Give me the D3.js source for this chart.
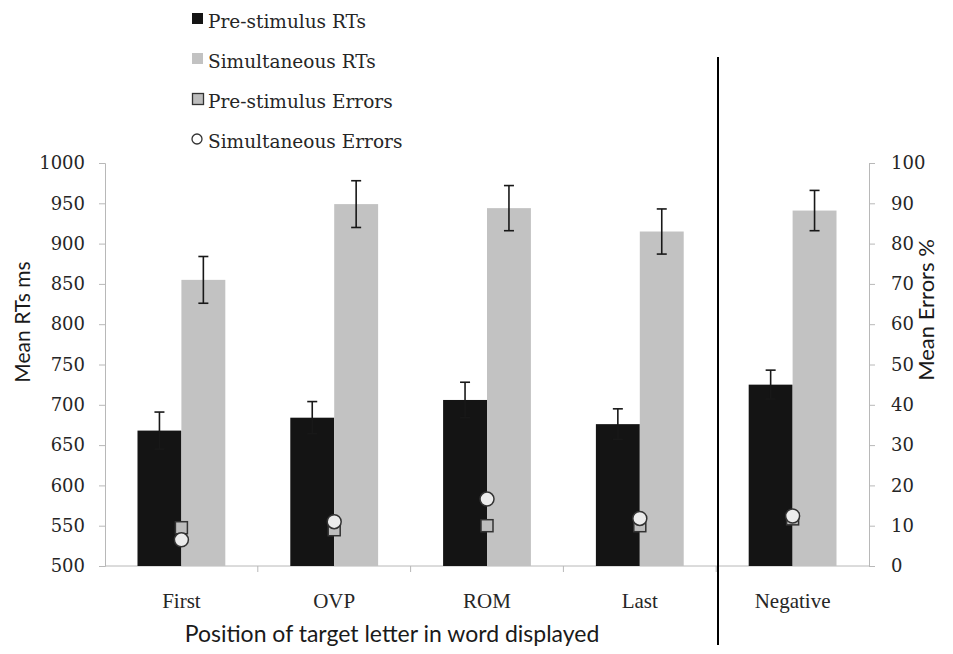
<!DOCTYPE html>
<html>
<head>
<meta charset="utf-8">
<script src="https://cdn.jsdelivr.net/npm/d3@7"></script>
<style>
  body { margin: 0; background: #fff; }
  .serif { font-family: "DejaVu Serif", serif; fill: #262626; }
  .cat { font-family: "Liberation Serif", serif; fill: #262626; }
  .sans { font-family: Lato, "Open Sans", sans-serif; fill: #1a1a1a; }
  .axis path, .axis line { stroke: #b8b8b8; }
</style>
</head>
<body>
<div id="chart"></div>
<script>
// data
const categories = ['First', 'OVP', 'ROM', 'Last', 'Negative'];
const preRT = [668, 684, 706, 676, 725];
const preRTErr = [23, 20, 22, 19, 18];
const simRT = [855, 949, 944, 915, 941];
const simRTErr = [29, 29, 28, 28, 25];
const preErrors = [9.5, 9, 10, 10, 11.7];
const simErrors = [6.5, 11, 16.6, 11.8, 12.4];
const rtTicks = [500, 550, 600, 650, 700, 750, 800, 850, 900, 950, 1000];
const errTicks = [0, 10, 20, 30, 40, 50, 60, 70, 80, 90, 100];
const legendLabels = ['Pre-stimulus RTs', 'Simultaneous RTs', 'Pre-stimulus Errors', 'Simultaneous Errors'];

let width = 953, height = 654;
let margin = { top: 163, left: 105, right: 84, bottom: 88 };
let innerW = width - margin.left - margin.right;
let innerH = height - margin.top - margin.bottom;

let svg = d3.select('#chart')
    .append('svg')
    .attr('width', width)
    .attr('height', height);

let g = svg.append('g')
    .attr('transform', 'translate(' + margin.left + ',' + margin.top + ')');

const x0 = d3.scaleBand().domain(categories).range([0, innerW]).padding(0);
const x1 = d3.scaleBand().domain(['pre', 'sim']).range([0, x0.bandwidth()])
    .paddingInner(0).paddingOuter(0.74);
const yRT = d3.scaleLinear().domain([500, 1000]).range([innerH, 0]);
const yErr = d3.scaleLinear().domain([0, 100]).range([innerH, 0]);

const rows = categories.map((c, i) => ({
    cat: c,
    bars: [
        { key: 'pre', v: preRT[i], e: preRTErr[i], color: '#141414' },
        { key: 'sim', v: simRT[i], e: simRTErr[i], color: '#c2c2c2' }
    ],
    preE: preErrors[i],
    simE: simErrors[i]
}));

// axes
let yAxisL = d3.axisLeft(yRT).tickValues(rtTicks).tickFormat(d3.format('d')).tickSize(6).tickPadding(14);
let yAxisR = d3.axisRight(yErr).tickValues(errTicks).tickFormat(d3.format('d')).tickSize(6).tickPadding(16);

g.append('g').attr('class', 'axis').call(yAxisL)
    .call(a => a.selectAll('text').attr('class', 'serif').style('font-size', '18px'));
g.append('g').attr('class', 'axis').attr('transform', `translate(${innerW},0)`).call(yAxisR)
    .call(a => a.selectAll('text').attr('class', 'serif').style('font-size', '18px'));

// x axis: line plus ticks at category boundaries
let xAxis = g.append('g').attr('class', 'axis').attr('transform', `translate(0,${innerH})`);
xAxis.append('line').attr('x1', 0).attr('x2', innerW).attr('y1', 0).attr('y2', 0);
xAxis.selectAll('.tk')
    .data(categories.slice(1))
    .enter()
    .append('line')
    .attr('x1', d => x0(d)).attr('x2', d => x0(d))
    .attr('y1', 0).attr('y2', 6);

g.selectAll('.catlab')
    .data(categories)
    .enter()
    .append('text')
    .attr('class', 'cat')
    .attr('x', d => x0(d) + x0.bandwidth() / 2)
    .attr('y', innerH + 42)
    .attr('text-anchor', 'middle')
    .style('font-size', '21px')
    .text(d => d);

// bars
let groups = g.selectAll('.grp')
    .data(rows)
    .enter()
    .append('g')
    .attr('transform', d => `translate(${x0(d.cat)},0)`);

groups.selectAll('rect')
    .data(d => d.bars)
    .enter()
    .append('rect')
    .attr('x', d => x1(d.key))
    .attr('y', d => yRT(d.v))
    .attr('width', x1.bandwidth())
    .attr('height', d => innerH - yRT(d.v))
    .attr('fill', d => d.color);

// error bars
let eb = groups.selectAll('.eb')
    .data(d => d.bars)
    .enter()
    .append('g')
    .attr('stroke', '#181818')
    .attr('stroke-width', 1.6);
eb.append('line')
    .attr('x1', d => x1(d.key) + x1.bandwidth() / 2)
    .attr('x2', d => x1(d.key) + x1.bandwidth() / 2)
    .attr('y1', d => yRT(d.v + d.e))
    .attr('y2', d => yRT(d.v - d.e));
[1, -1].forEach(s => {
    eb.append('line')
        .attr('x1', d => x1(d.key) + x1.bandwidth() / 2 - 5)
        .attr('x2', d => x1(d.key) + x1.bandwidth() / 2 + 5)
        .attr('y1', d => yRT(d.v + s * d.e))
        .attr('y2', d => yRT(d.v + s * d.e));
});

// error markers
let mid = x0.bandwidth() / 2;
groups.append('rect')
    .attr('x', mid - 6)
    .attr('y', d => yErr(d.preE) - 6)
    .attr('width', 12).attr('height', 12)
    .attr('fill', '#bdbdbd')
    .attr('stroke', '#333')
    .attr('stroke-width', 1.5);
groups.append('circle')
    .attr('cx', mid)
    .attr('cy', d => yErr(d.simE))
    .attr('r', 7)
    .attr('fill', '#ececec')
    .attr('stroke', '#333')
    .attr('stroke-width', 1.5);

// axis titles
svg.append('text')
    .attr('class', 'sans')
    .attr('transform', 'translate(30,322) rotate(-90)')
    .attr('text-anchor', 'middle')
    .style('font-size', '21px')
    .text('Mean RTs ms');
svg.append('text')
    .attr('class', 'sans')
    .attr('transform', 'translate(934,310) rotate(-90)')
    .attr('text-anchor', 'middle')
    .style('font-size', '22px')
    .text('Mean Errors %');
svg.append('text')
    .attr('class', 'sans')
    .attr('x', 392)
    .attr('y', 642)
    .attr('text-anchor', 'middle')
    .style('font-size', '23px')
    .text('Position of target letter in word displayed');

// divider between positive and negative trials
svg.append('line')
    .attr('x1', 718).attr('x2', 718)
    .attr('y1', 57).attr('y2', 645)
    .attr('stroke', '#000')
    .attr('stroke-width', 2);

// legend
let legend = svg.append('g').attr('transform', 'translate(192,0)');
legendLabels.forEach((lab, i) => {
    let yy = 28 + i * 40;
    if (i === 0) legend.append('rect').attr('x', 0).attr('y', yy - 15).attr('width', 11).attr('height', 11).attr('fill', '#141414');
    if (i === 1) legend.append('rect').attr('x', 0).attr('y', yy - 15).attr('width', 11).attr('height', 11).attr('fill', '#c2c2c2');
    if (i === 2) legend.append('rect').attr('x', 0.5).attr('y', yy - 14.5).attr('width', 11).attr('height', 11).attr('fill', '#bdbdbd').attr('stroke', '#333').attr('stroke-width', 1.3);
    if (i === 3) legend.append('circle').attr('cx', 5).attr('cy', yy - 9).attr('r', 5).attr('fill', '#fff').attr('stroke', '#333').attr('stroke-width', 1.3);
    legend.append('text')
        .attr('class', 'serif')
        .attr('x', 16)
        .attr('y', yy)
        .style('font-size', '18.5px')
        .text(lab);
});
</script>
</body>
</html>
